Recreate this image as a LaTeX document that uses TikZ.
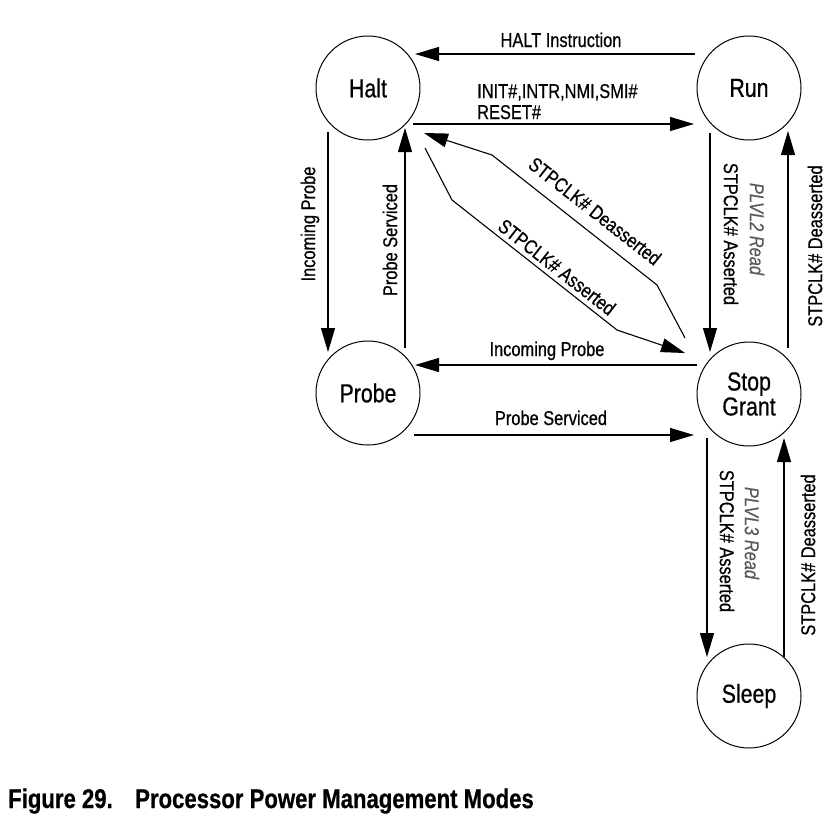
\documentclass[tikz,border=0pt]{standalone}
\usepackage{fontspec}
\setmainfont[FakeStretch=0.82,FakeBold=0.6]{Liberation Sans}
\usetikzlibrary{arrows.meta,calc}
\definecolor{plgray}{rgb}{0.35,0.35,0.35}
\begin{document}
\begin{tikzpicture}[x=1pt,y=-1pt,
  state/.style={circle,draw,line width=1pt,minimum size=104pt,inner sep=0pt,outer sep=0pt,
    font=\fontsize{26}{25}\selectfont,align=center},
  lab/.style={font=\fontsize{20}{21}\selectfont,inner sep=0pt},
  plvl/.style={font=\fontsize{20}{21}\selectfont\itshape,text=plgray,inner sep=0pt},
  arr/.style={line width=1.1pt,-{Triangle[length=24pt,width=14pt]}},
  title/.style={font=\fontsize{27}{27}\selectfont\bfseries,inner sep=0pt,anchor=base west}]
\useasboundingbox (0,0) rectangle (838,815);

% states
\node[state] (halt)  at (368,88)  {Halt};
\node[state] (run)   at (749,88)  {Run};
\node[state] (probe) at (368,393) {Probe};
\node[state] (stop)  at (749,394) {Stop\\Grant};
\node[state] (sleep) at (749,696) {Sleep};

% Halt <-> Run
\draw[arr] ($(run)+(-54,-34)$) -- ($(halt)+(47,-34)$);
\draw[arr] ($(halt)+(45,36)$) -- ($(run)+(-55,36)$);
\node[lab,anchor=base] (lhalt) at (561,47) {HALT Instruction};
\node[lab,anchor=base west] (linit) at (477,98) {INIT\#,INTR,NMI,SMI\#};
\node[lab,anchor=base west] (lreset) at (477,119) {RESET\#};

% Halt <-> Probe
\draw[arr] ($(halt)+(-40,44)$) -- ($(probe)+(-40,-41)$);
\draw[arr] ($(probe)+(37,-45)$) -- ($(halt)+(37,40)$);
\node[lab,rotate=90] (lhp1) at (310,224) {Incoming Probe};
\node[lab,rotate=90] (lhp2) at (390,240) {Probe Serviced};

% Run <-> Stop Grant
\draw[arr] ($(run)+(-39,45)$) -- ($(stop)+(-39,-42)$);
\draw[arr] ($(stop)+(39,-46)$) -- ($(run)+(39,43)$);
\node[lab,rotate=-90] (lrs1) at (731,234) {STPCLK\# Asserted};
\node[plvl,rotate=-90] (lrs2) at (757,229) {PLVL2 Read};
\node[lab,rotate=90] (lrs3) at (815,246) {STPCLK\# Deasserted};

% Stop Grant <-> Probe
\draw[arr] ($(stop)+(-52,-29)$) -- ($(probe)+(47,-28)$);
\draw[arr] ($(probe)+(46,42)$) -- ($(stop)+(-55,41)$);
\node[lab,anchor=base] (lsp1) at (547,356) {Incoming Probe};
\node[lab,anchor=base] (lsp2) at (551,425) {Probe Serviced};

% Stop Grant <-> Sleep
\draw[arr] ($(stop)+(-42,44)$) -- ($(sleep)+(-42,-39)$);
\draw[arr] ($(sleep)+(35,-39)$) -- ($(stop)+(35,44)$);
\node[lab,rotate=-90] (lss1) at (727,541) {STPCLK\# Asserted};
\node[plvl,rotate=-90] (lss2) at (752,533) {PLVL3 Read};
\node[lab,rotate=90] (lss3) at (808,555) {STPCLK\# Deasserted};

% Halt <-> Stop Grant diagonals
\draw[arr] ($(stop)+(-64,-56)$) -- (657,285) -- (492,155) -- ($(halt)+(56,45)$);
\draw[arr] ($(halt)+(57,60)$) -- (452,200) -- (617,330) -- ($(stop)+(-64,-41)$);
\node[lab,rotate=-38] (ld1) at (595,211) {STPCLK\# Deasserted};
\node[lab,rotate=-38] (ld2) at (557,267) {STPCLK\# Asserted};

% caption
\node[title] (fig) at (8,808) {Figure 29.};
\node[title] (cap) at (135,808) {Processor Power Management Modes};
\end{tikzpicture}
\end{document}
